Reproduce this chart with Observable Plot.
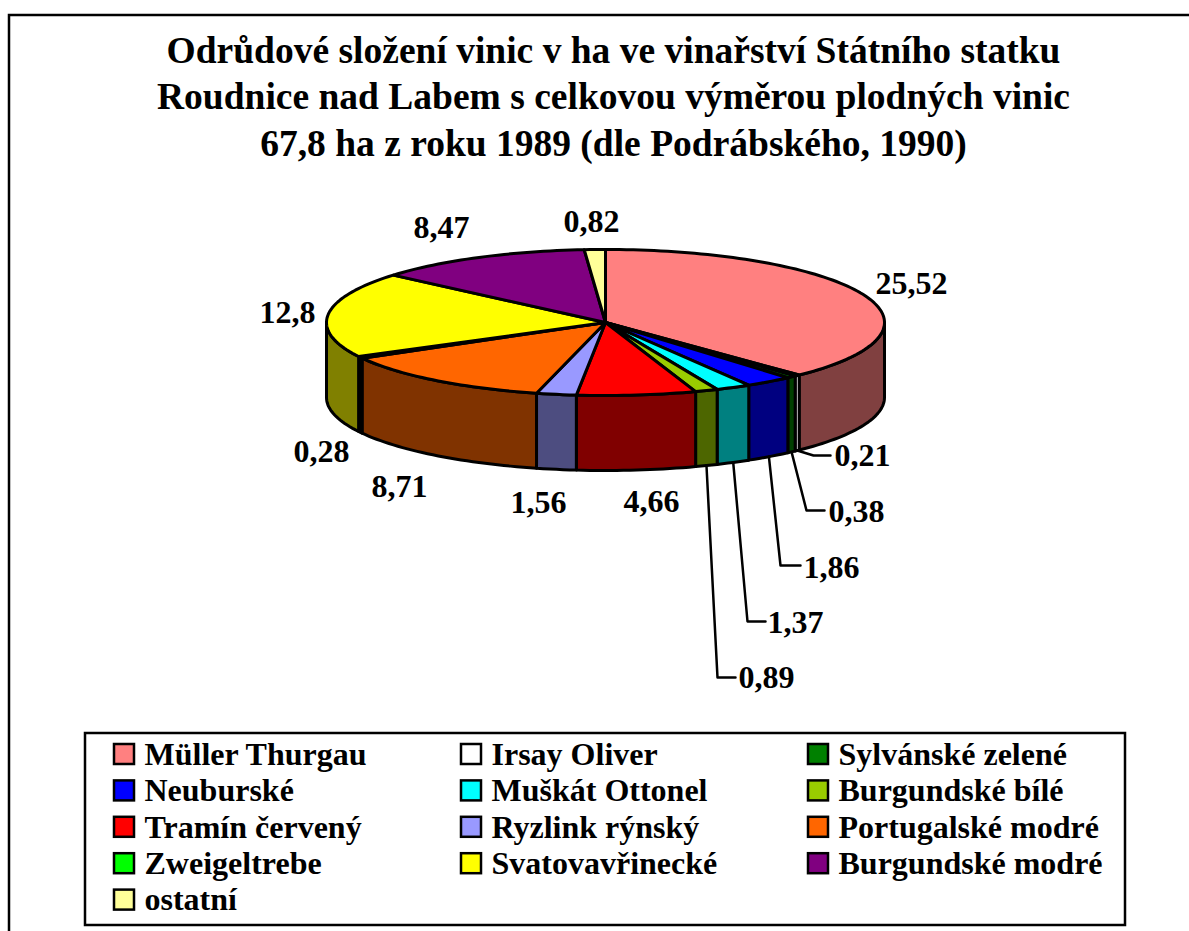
<!DOCTYPE html>
<html><head><meta charset="utf-8">
<script src="https://cdn.jsdelivr.net/npm/d3@7"></script>
<script src="https://cdn.jsdelivr.net/npm/@observablehq/plot@0.6"></script>
<style>html,body{margin:0;padding:0;background:#fff;overflow:hidden}svg{display:block}</style>
</head><body><div id="chart"></div>
<script>
const titleLines = ["Odrůdové složení vinic v ha ve vinařství Státního statku","Roudnice nad Labem s celkovou výměrou plodných vinic","67,8 ha z roku 1989 (dle Podrábského, 1990)"];
const varieties = ["Müller Thurgau","Irsay Oliver","Sylvánské zelené","Neuburské","Muškát Ottonel","Burgundské bílé","Tramín červený","Ryzlink rýnský","Portugalské modré","Zweigeltrebe","Svatovavřinecké","Burgundské modré","ostatní"];
const areas = [25.52,0.21,0.38,1.86,1.37,0.89,4.66,1.56,8.71,0.28,12.8,8.47,0.82];
const areaLabels = ["25,52","0,21","0,38","1,86","1,37","0,89","4,66","1,56","8,71","0,28","12,8","8,47","0,82"];
const topColors = ["#ff8080","#ffffff","#008000","#0000ff","#00ffff","#99cc00","#ff0000","#9999ff","#ff6600","#00ff00","#ffff00","#800080","#ffff99"];
const sideColors = ["#804040","#ffffff","#004000","#000080","#008080","#4d6600","#800000","#4d4d80","#803300","#000000","#808000","#400040","#808050"];

// layout, kept apart from the data
const W = 1189, H = 931;
const pie = {cx:605, cy:322, rx:279, ry:73, depth:75};
const labelPos = [[911,293],[834,465],[828,521],[803,577],[767,632],[738,687],[651,511],[538,512],[399,496],[321,461],[287,322],[441,237],[591,231]];
const elbows = {1:[[813,455],[830,455]],2:[[806,510],[824,510]],3:[[780,565],[800,565]],4:[[747,621],[765,621]],5:[[717,677],[735,677]]};
const legendCols = [114,461,808], legendRow0 = 754, legendStep = 36.4, swatch = 20;

const total = d3.sum(areas);
const cum = d3.cumsum(areas);
const ang = v => v / total * 2 * Math.PI;
const slices = areas.map((v,i)=>({i, a0: ang(cum[i]-v), a1: ang(cum[i])}));
const rim = (a,dz=0)=>[pie.cx+pie.rx*Math.sin(a), pie.cy-pie.ry*Math.cos(a)+dz];
const arc = (a0,a1,dz=0)=>{const n=Math.max(2,Math.ceil((a1-a0)*40));return d3.range(n+1).map(k=>rim(a0+(a1-a0)*k/n,dz));};

// walls: only the front half of the rim shows
const sidePts=[], topPts=[];
for (const s of slices){
  const lo=Math.max(s.a0,Math.PI/2), hi=Math.min(s.a1,3*Math.PI/2);
  if (hi>lo){
    const ring=[...arc(lo,hi),...arc(lo,hi,pie.depth).reverse()];
    ring.push(ring[0]);
    ring.forEach(([x,y])=>sidePts.push({id:"s"+s.i,x,y,c:sideColors[s.i]}));
  }
  const wedge=[[pie.cx,pie.cy],...arc(s.a0,s.a1),[pie.cx,pie.cy]];
  wedge.forEach(([x,y])=>topPts.push({id:"t"+s.i,x,y,c:topColors[s.i]}));
}
// leader lines start at the mid-angle of their slice on the lower rim
const leaderPts=[];
for (const k of Object.keys(elbows)){
  const s=slices[k], [x0,y0]=rim((s.a0+s.a1)/2,pie.depth);
  [[x0,y0],...elbows[k]].forEach(([x,y])=>leaderPts.push({id:k,x,y}));
}
const labels=areaLabels.map((t,i)=>({t,x:labelPos[i][0],y:labelPos[i][1],led:!!elbows[i]}));
const legend=varieties.map((name,i)=>({name,c:topColors[i],x:legendCols[i%3],y:legendRow0+Math.floor(i/3)*legendStep}));
const serif='"Liberation Serif","Times New Roman",serif';
const boldText={fontWeight:"bold",fill:"#000",fontSize:32};

const chart=Plot.plot({
  width:W,height:H,margin:0,
  x:{domain:[0,W],range:[0,W],axis:null},
  y:{domain:[0,H],range:[0,H],axis:null},
  color:{type:"identity"},
  style:{background:"#fff",fontFamily:serif},
  marks:[
    Plot.rect([{}],{x1:()=>9,x2:()=>1210,y1:()=>15,y2:()=>950,fill:"#fff",stroke:"#000",strokeWidth:2.5,clip:true}),
    Plot.text(titleLines,{x:()=>613,y:(d,i)=>62+i*46.7,text:d=>d,...boldText,fontSize:37.5,lineAnchor:"bottom"}),
    Plot.line(sidePts,{x:"x",y:"y",z:"id",fill:"c",stroke:"#000",strokeWidth:3,strokeLinejoin:"round"}),
    Plot.line(topPts,{x:"x",y:"y",z:"id",fill:"c",stroke:"#000",strokeWidth:3,strokeLinejoin:"round"}),
    Plot.line(leaderPts,{x:"x",y:"y",z:"id",stroke:"#000",strokeWidth:2.5}),
    Plot.text(labels.filter(d=>d.led),{x:"x",y:"y",text:"t",textAnchor:"start",...boldText,lineAnchor:"bottom"}),
    Plot.text(labels.filter(d=>!d.led),{x:"x",y:"y",text:"t",textAnchor:"middle",...boldText,lineAnchor:"bottom"}),
    Plot.rect([{}],{x1:()=>85,x2:()=>1125,y1:()=>733,y2:()=>925,fill:"#fff",stroke:"#000",strokeWidth:2.5}),
    Plot.rect(legend,{x1:"x",x2:d=>d.x+swatch,y1:d=>d.y-swatch/2,y2:d=>d.y+swatch/2,fill:"c",stroke:"#000",strokeWidth:2.5}),
    Plot.text(legend,{x:d=>d.x+30,y:"y",text:"name",textAnchor:"start",...boldText,lineAnchor:"middle"})
  ]
});
document.getElementById("chart").append(chart);
</script></body></html>
